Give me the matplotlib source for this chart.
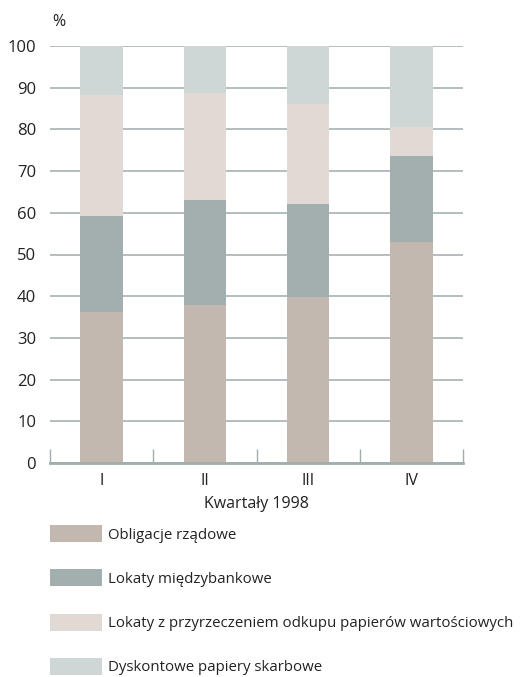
import numpy as np
import matplotlib
matplotlib.use("Agg")
import matplotlib.pyplot as plt

plt.rcParams['font.family'] = ['Open Sans', 'DejaVu Sans']

# Struktura lokat w kolejnych kwartałach (%)
kwartaly = ['I', 'II', 'III', 'IV']
obligacje = [36.3, 37.9, 39.9, 53.0]
miedzybankowe = [23.0, 25.2, 22.2, 20.7]
repo = [29.0, 25.6, 24.0, 6.9]
dyskontowe = [11.7, 11.3, 13.9, 19.4]

serie = [
    ('Obligacje rządowe', obligacje, '#c2b8b0'),
    ('Lokaty międzybankowe', miedzybankowe, '#a3afaf'),
    ('Lokaty z przyrzeczeniem odkupu papierów wartościowych', repo, '#e0d9d4'),
    ('Dyskontowe papiery skarbowe', dyskontowe, '#cfd6d6'),
]

fig = plt.figure(figsize=(5.21, 6.77), dpi=100)
ax = fig.add_axes([50 / 521, 1 - 463 / 677, 413 / 521, 417 / 677])

x = np.arange(len(kwartaly))
dol = np.zeros(len(kwartaly))
for nazwa, wartosci, kolor in serie:
    ax.bar(x, wartosci, width=0.41, bottom=dol, color=kolor, label=nazwa, zorder=2)
    dol += np.array(wartosci)

ax.set_xlim(-0.5, 3.5)
ax.set_ylim(0, 100)
ax.set_yticks(range(0, 101, 10))
ax.set_xticks(x)
ax.set_xticklabels(kwartaly)
ax.set_xticks(np.arange(-0.5, 4, 1), minor=True)

ax.grid(axis='y', color='#b3bebe', linewidth=1.4, zorder=0)
ax.set_axisbelow(True)

for s in ['top', 'right', 'left']:
    ax.spines[s].set_visible(False)
ax.spines['bottom'].set_color('#a2adad')
ax.spines['bottom'].set_linewidth(2)

ax.tick_params(axis='y', length=0, pad=10, labelsize=12, labelcolor='#222222')
ax.tick_params(axis='x', which='major', length=0, pad=7, labelsize=11.5, labelcolor='#222222')
ax.tick_params(axis='x', which='minor', direction='in', length=10, width=1.0, color='#a2adad')

ax.set_xlabel('Kwartały 1998', fontsize=11.5, color='#222222', labelpad=5)
ax.text(52 / 521, 1 - 22 / 677, '%', transform=fig.transFigure, fontsize=11.5,
        color='#222222', ha='left', va='center')

fig.legend(loc='upper left', bbox_to_anchor=(50 / 521, 1 - 525 / 677),
           frameon=False, fontsize=10.8, handlelength=3.45, handleheight=1.38,
           handletextpad=0.4, labelspacing=1.78, borderpad=0, borderaxespad=0,
           labelcolor='#222222')

fig.savefig('out.png', dpi=100)
